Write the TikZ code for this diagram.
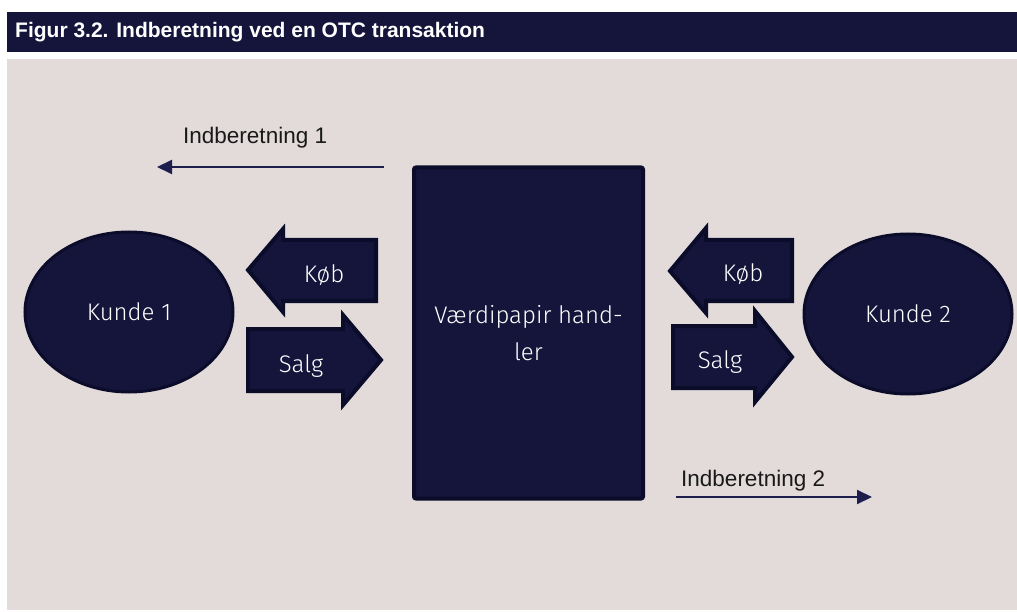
\documentclass[tikz,border=0pt]{standalone}
\usepackage{fontspec}
\setmainfont{Liberation Sans}
\newfontfamily\shapefont{Fira Sans}[UprightFont={* Light}]
\usepackage{xcolor}
\usepackage{tikz}
\usetikzlibrary{shapes.geometric,arrows.meta,positioning}

\definecolor{navy}{HTML}{15153C}
\definecolor{navyline}{HTML}{0B0B2A}
\definecolor{panel}{HTML}{E2DBDA}
\definecolor{reportline}{HTML}{1E1E4E}

\begin{document}
\begin{tikzpicture}[
    x=1pt, y=-1pt,
    shapebox/.style = {draw=navyline, fill=navy, line width=4pt, text=white,
      inner sep=0pt, font=\shapefont\fontsize{24}{37}\selectfont},
    kunde/.style = {shapebox, ellipse, line width=3pt, minimum width=208pt, minimum height=160pt},
    handler/.style = {shapebox, rectangle, rounded corners=2pt, minimum width=229pt,
      minimum height=331pt, align=center},
    blockarrow/.style = {draw=navyline, fill=navy, line width=4pt, line join=miter},
    arrowlabel/.style = {text=white, inner sep=0pt, anchor=base,
      font=\shapefont\fontsize{24}{29}\selectfont},
    report/.style = {draw=reportline, line width=2pt, -{Triangle[length=15pt,width=14pt]}},
    reportlabel/.style = {text=black!90, inner sep=0pt, anchor=base west,
      font=\fontsize{22.5}{27}\selectfont}
  ]
  \useasboundingbox[fill=white] (0,0) rectangle (1017,612);

  % title bar and panel
  \fill[navy] (7,12) rectangle (1017,52);
  \node[anchor=west, inner sep=0pt, text=white, font=\bfseries\fontsize{21}{25}\selectfont]
    (title) at (15,32) {Figur 3.2. Indberetning ved en OTC transaktion};
  \fill[panel] (7,59) rectangle (1017,610);

  % parties
  \node[kunde] (kunde1) at (129,312) {Kunde 1};
  \node[kunde] (kunde2) at (908,314) {Kunde 2};
  \node[handler] (handler) at (528.5,333) {V\ae rdipapir hand-\\ler};

  % trades, left side
  \draw[blockarrow] (248,270) -- (283,229) -- (283,240) -- (376,240) -- (376,301)
    -- (283,301) -- (283,312) -- cycle;
  \node[arrowlabel] (kob1) at (324,283) {K\o b};
  \draw[blockarrow] (248,329) -- (343,329) -- (343,315) -- (381,360) -- (343,405)
    -- (343,391) -- (248,391) -- cycle;
  \node[arrowlabel] (salg1) at (301,372) {Salg};

  % trades, right side
  \draw[blockarrow] (670,271) -- (706,228) -- (706,240) -- (792,240) -- (792,301)
    -- (706,301) -- (706,313) -- cycle;
  \node[arrowlabel] (kob2) at (743,282) {K\o b};
  \draw[blockarrow] (673,326) -- (755,326) -- (755,311) -- (792,357) -- (755,402)
    -- (755,388) -- (673,388) -- cycle;
  \node[arrowlabel] (salg2) at (720,368) {Salg};

  % reports
  \coordinate (rep1start) at (384,167);
  \coordinate (rep1end) at (157,167);
  \draw[report] (rep1start) -- (rep1end);
  \node[reportlabel] (rep1) at (183,144) {Indberetning 1};

  \coordinate (rep2start) at (676,497);
  \coordinate (rep2end) at (872,497);
  \draw[report] (rep2start) -- (rep2end);
  \node[reportlabel] (rep2) at (681,486) {Indberetning 2};
\end{tikzpicture}
\end{document}
